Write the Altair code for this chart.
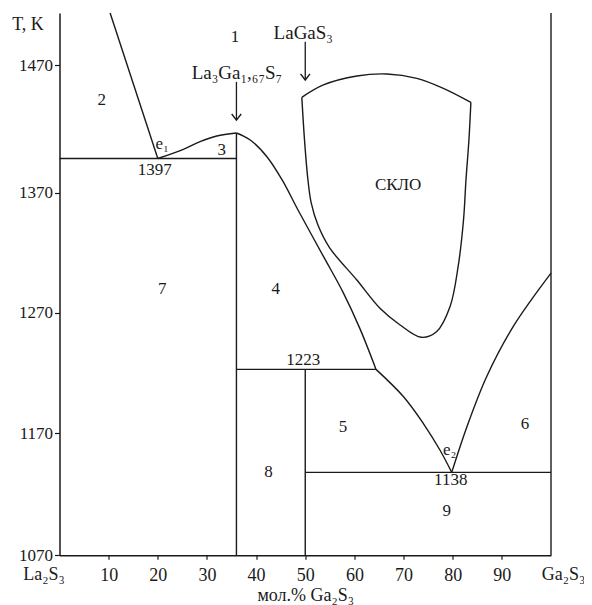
import altair as alt
import pandas as pd

FONT = "'Liberation Serif', 'Times New Roman', 'DejaVu Serif', serif"
INK = "#1a1a1a"

# ---- axis values -------------------------------------------------------
t_ticks = [1070, 1170, 1270, 1370, 1470]
t_top = 1511
x_ticks = [0, 10, 20, 30, 40, 50, 60, 70, 80, 90, 100]

# ---- straight phase boundaries (x = mol.% Ga2S3, T in K) ----------------
liq_left_x = [10.3, 20.0]
liq_left_t = [1511, 1397]
eut1_x = [0, 36]
eut1_t = [1397, 1397]
comp36_x = [36, 36]
comp36_t = [1417, 1070]
per_x = [36, 64.4]
per_t = [1223, 1223]
comp50_x = [50, 50]
comp50_t = [1223, 1070]
eut2_x = [50, 100]
eut2_t = [1138, 1138]
border_x = [100, 100]
border_t = [1070, 1511]

# ---- curved boundaries ------------------------------------------------
rise_x = [20.0, 25.2, 28.6, 32.0, 36.0]
rise_t = [1397, 1404.2, 1410.2, 1414.6, 1417]
fall_x = [36.0, 38.8, 42.2, 45.3, 48.5, 53.7, 57.7, 61.1, 64.4]
fall_t = [1417, 1411.5, 1398.4, 1380.2, 1356, 1317, 1287, 1257, 1223]
low_x = [64.4, 70.0, 74.0, 77.4, 79.8]
low_t = [1223, 1200.3, 1178.3, 1156.3, 1138]
right_x = [79.8, 82.9, 86.9, 92.3, 100.0]
right_t = [1138, 1175.5, 1216.9, 1258.4, 1303]
glass_top_x = [49.3, 53.7, 60.5, 66.6, 72.7, 78.1, 83.7]
glass_top_t = [1444.9, 1454.6, 1461.6, 1463.2, 1459.8, 1452.0, 1441.0]
glass_u_x = [49.3, 49.85, 50.5, 51.2, 52.6, 55.0, 60.5, 65.2, 69.3, 73.6, 76.7, 79.45, 81.1, 82.2, 82.7, 83.3, 83.7]
glass_u_t = [1444.9, 1411.5, 1382, 1362, 1343, 1324, 1297.3, 1273.7, 1259.8, 1249.6, 1254.2, 1275, 1308.4, 1347.4, 1380.2, 1411.5, 1441.0]

# ---- arrows -----------------------------------------------------------
arrow_x = [36, 50]
arrow_t1 = [1457, 1488.5]
arrow_t2 = [1427, 1458.5]

# ---- labels -----------------------------------------------------------
lab_text = ["1", "2", "3", "e\u2081", "1397", "La\u2083Ga\u2081,\u2086\u2087S\u2087", "LaGaS\u2083",
            "СКЛО", "7", "4", "1223", "5", "6", "e\u2082", "1138", "9", "8"]
lab_x = [35.7, 8.6, 33.0, 20.9, 19.4, 36.1, 49.6, 68.9, 20.9, 44.0, 49.6, 57.7, 94.7, 79.4, 79.6, 78.8, 42.5]
lab_t = [1492, 1443, 1404, 1408, 1388, 1464, 1495, 1376, 1290, 1290, 1231, 1175, 1178, 1156, 1132, 1106, 1138]
lab_size = [17, 17, 17, 17, 17, 19, 19, 17, 17, 17, 17, 17, 17, 17, 17, 17, 17]


def frame(pairs):
    rows = []
    for name, xs, ts in pairs:
        for i, (xv, tv) in enumerate(zip(xs, ts)):
            rows.append({"seg": name, "o": i, "x": xv, "t": tv})
    return pd.DataFrame(rows)


straight = frame([
    ("liq_left", liq_left_x, liq_left_t), ("eut1", eut1_x, eut1_t),
    ("c36", comp36_x, comp36_t), ("per", per_x, per_t),
    ("c50", comp50_x, comp50_t), ("eut2", eut2_x, eut2_t),
    ("border", border_x, border_t),
])
curved = frame([
    ("rise", rise_x, rise_t), ("fall", fall_x, fall_t),
    ("low", low_x, low_t), ("right", right_x, right_t),
    ("gtop", glass_top_x, glass_top_t), ("gu", glass_u_x, glass_u_t),
])
arrows = pd.DataFrame({"x": arrow_x, "t": arrow_t1, "t2": arrow_t2})
labels = pd.DataFrame({"label": lab_text, "x": lab_x, "t": lab_t, "fs": lab_size})

x_scale = alt.Scale(domain=[0, 100], nice=False, zero=False)
y_scale = alt.Scale(domain=t_ticks + [t_top], range=[542.3, 420.3, 299.7, 180.0, 52.3, 0],
                    nice=False, zero=False)

x_axis = alt.Axis(
    values=x_ticks,
    labelExpr="datum.value == 0 ? 'La\u2082S\u2083' : datum.value == 100 ? 'Ga\u2082S\u2083' : datum.label",
    labelFlush=False, labelOverlap=False,
    labelOffset={"condition": [{"test": "datum.value == 0", "value": -16},
                               {"test": "datum.value == 100", "value": 12}], "value": 0},
    labelPadding={"condition": {"test": "datum.value == 0 || datum.value == 100", "value": 10}, "value": 7},
    tickSize={"condition": {"test": "datum.value == 0 || datum.value == 100", "value": 0}, "value": 4},
    tickColor=INK, tickWidth=1.2, domainColor=INK, domainWidth=1.5,
    labelFont=FONT, labelFontSize=18, labelColor=INK,
    title="мол.% Ga\u2082S\u2083", titleFont=FONT, titleFontSize=18, titleFontWeight="normal",
    titleColor=INK, titlePadding=2, grid=False,
)
y_axis = alt.Axis(
    values=t_ticks, format="d", title="T, K", titleAngle=0, titleX=-32, titleY=12,
    titleAlign="center", titleBaseline="middle", titleFont=FONT, titleFontSize=18,
    titleFontWeight="normal", titleColor=INK,
    labelFont=FONT, labelFontSize=17, labelColor=INK, labelPadding=2,
    tickSize=5, tickColor=INK, tickWidth=1.2, domainColor=INK, domainWidth=1.5, grid=False,
)

X = alt.X("x:Q", scale=x_scale, axis=x_axis)
Y = alt.Y("t:Q", scale=y_scale, axis=y_axis)

lines_straight = alt.Chart(straight).mark_line(color=INK, strokeWidth=1.4).encode(
    x=X, y=Y, detail="seg:N", order="o:Q")
lines_curved = alt.Chart(curved).mark_line(color=INK, strokeWidth=1.4, interpolate="catmull-rom").encode(
    x=X, y=Y, detail="seg:N", order="o:Q")
arrow_shafts = alt.Chart(arrows).mark_rule(color=INK, strokeWidth=1.3).encode(
    x=X, y=Y, y2="t2:Q")
arrow_heads = alt.Chart(arrows).mark_point(
    shape="M-1,-1.3L0,0L1,-1.3", filled=False, color=INK, strokeWidth=1.4, size=90, opacity=1
).encode(x=X, y=alt.Y("t2:Q", scale=y_scale, axis=y_axis))
texts = alt.Chart(labels).mark_text(font=FONT, color=INK, align="center", baseline="middle").encode(
    x=X, y=Y, text="label:N", size=alt.Size("fs:Q", scale=None))

chart = alt.layer(lines_straight, lines_curved, arrow_shafts, arrow_heads, texts).properties(
    width=491.5, height=542.3,
    padding={"left": 51.5, "top": 5, "right": 33, "bottom": 50},
    autosize=alt.AutoSizeParams(type="none"),
).configure_view(stroke=None)

chart.save("out.html", embed_options={"renderer": "svg", "actions": False})
